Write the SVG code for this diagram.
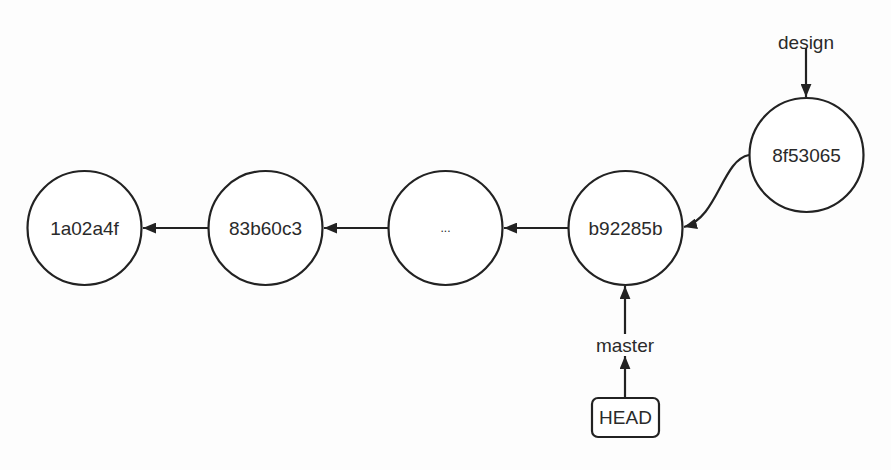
<svg xmlns="http://www.w3.org/2000/svg" width="891" height="470" viewBox="0 0 891 470">
<style>
.n{fill:#fff;stroke:#222;stroke-width:2.2}
.t{font-family:"Liberation Sans",Arial,sans-serif;font-size:19px;fill:#2a2a2a;text-anchor:middle;dominant-baseline:central}
.c{fill:none;stroke:#222;stroke-width:2.2}
</style>
<defs>
<marker id="a" viewBox="0 0 12 10" refX="12" refY="5" markerWidth="13" markerHeight="11" markerUnits="userSpaceOnUse" orient="auto">
<path d="M0,0 L12,5 L0,10 Z" fill="#222"/>
</marker>
</defs>
<rect width="891" height="470" fill="#fdfdfd"/>
<g id="connectors">
<path class="c" d="M208,228 H143" marker-end="url(#a)"/>
<path class="c" d="M388,228 H324" marker-end="url(#a)"/>
<path class="c" d="M568,228 H504" marker-end="url(#a)"/>
<path class="c" d="M749,155 C722,160 718,218 684,227" marker-end="url(#a)"/>
<path class="c" d="M806,48 V97" marker-end="url(#a)"/>
<path class="c" d="M625,334 V286" marker-end="url(#a)"/>
<path class="c" d="M625,398 V356" marker-end="url(#a)"/>
</g>
<g id="n1a02a4f"><circle class="n" cx="84.5" cy="228" r="57"/><text class="t" x="84.5" y="228">1a02a4f</text></g>
<g id="n83b60c3"><circle class="n" cx="265.5" cy="228" r="57"/><text class="t" x="265.5" y="228">83b60c3</text></g>
<g id="ndots"><circle class="n" cx="445.5" cy="228" r="57"/><text class="t" x="445.5" y="228" style="font-size:12px">...</text></g>
<g id="nb92285b"><circle class="n" cx="625.5" cy="228" r="57"/><text class="t" x="625.5" y="228">b92285b</text></g>
<g id="n8f53065"><circle class="n" cx="806.5" cy="155" r="57"/><text class="t" x="806.5" y="155">8f53065</text></g>
<g id="design"><text class="t" x="806" y="42">design</text></g>
<g id="master"><text class="t" x="625" y="345">master</text></g>
<g id="head"><rect class="n" x="592" y="398" width="67" height="39" rx="6"/><text class="t" x="625.5" y="417.5">HEAD</text></g>
</svg>
